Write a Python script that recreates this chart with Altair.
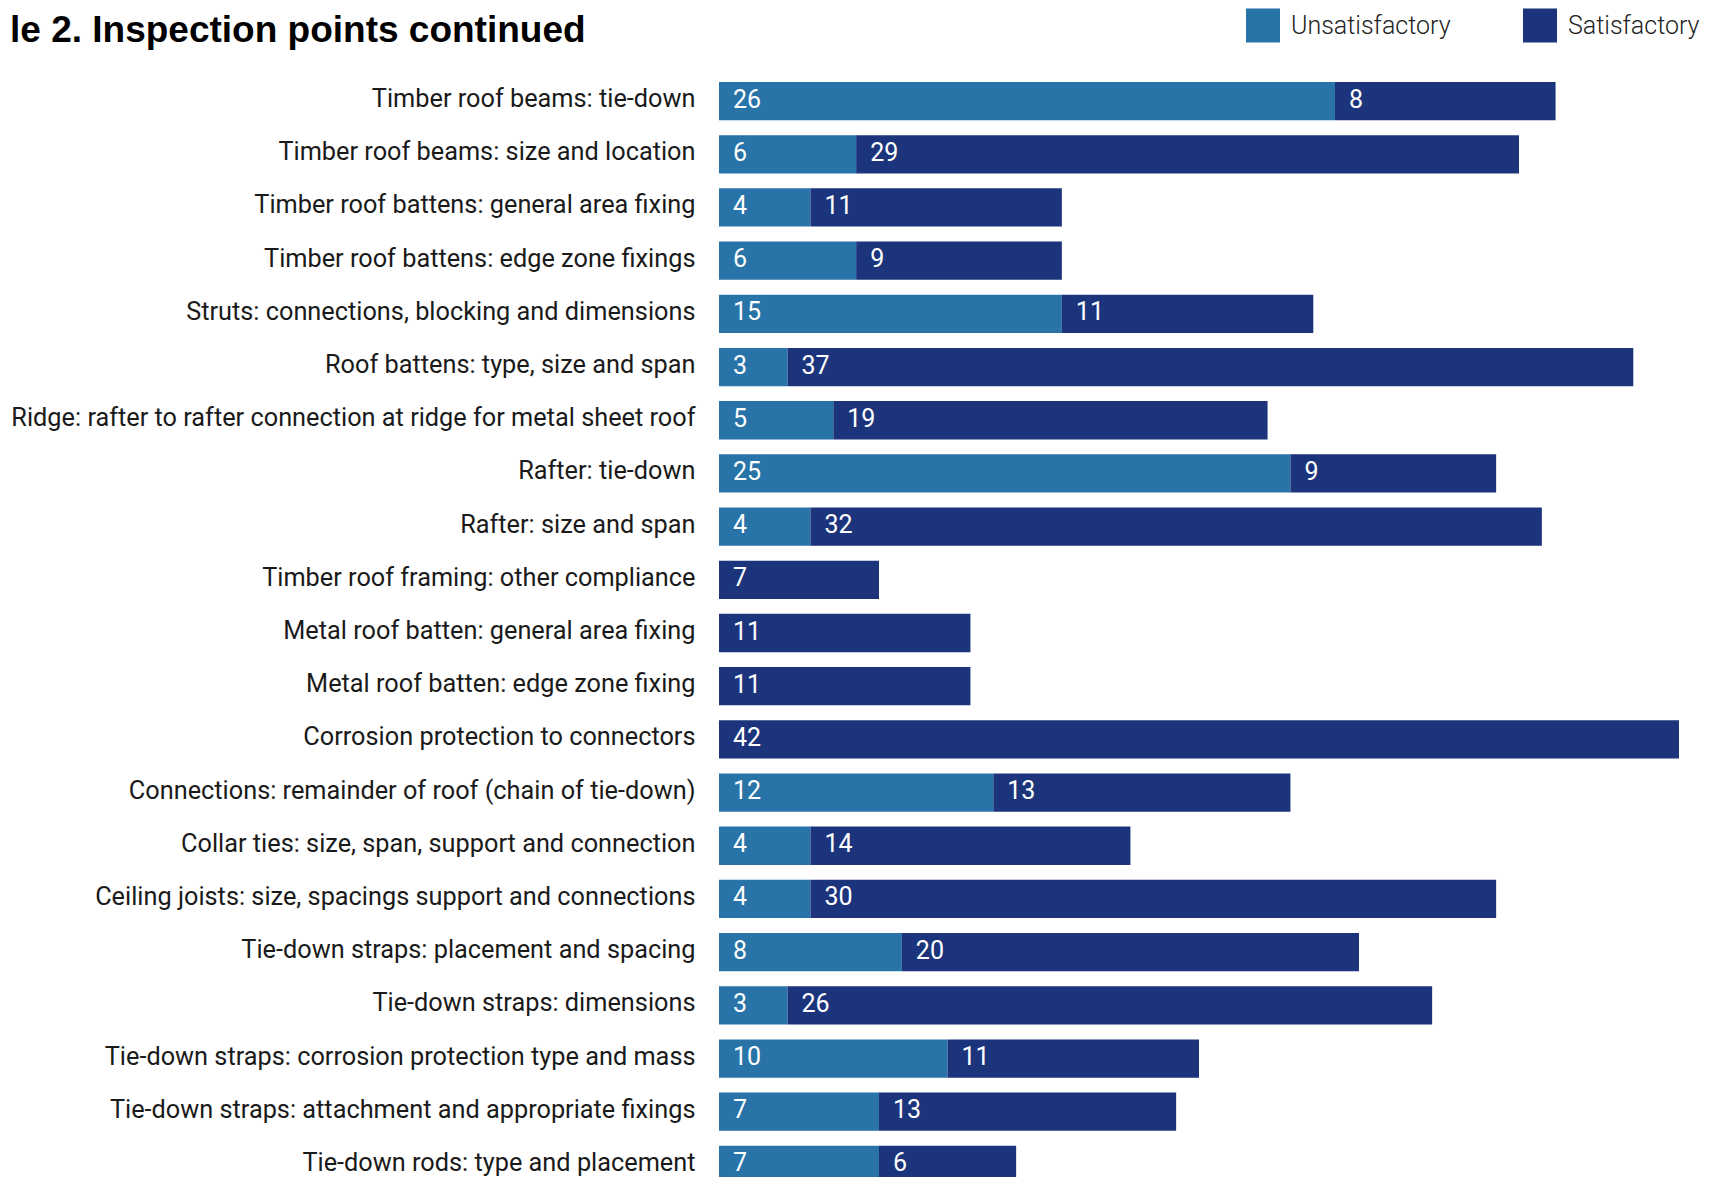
import altair as alt
import pandas as pd

categories = [
    "Timber roof beams: tie-down",
    "Timber roof beams: size and location",
    "Timber roof battens: general area fixing",
    "Timber roof battens: edge zone fixings",
    "Struts: connections, blocking and dimensions",
    "Roof battens: type, size and span",
    "Ridge: rafter to rafter connection at ridge for metal sheet roof",
    "Rafter: tie-down",
    "Rafter: size and span",
    "Timber roof framing: other compliance",
    "Metal roof batten: general area fixing",
    "Metal roof batten: edge zone fixing",
    "Corrosion protection to connectors",
    "Connections: remainder of roof (chain of tie-down)",
    "Collar ties: size, span, support and connection",
    "Ceiling joists: size, spacings support and connections",
    "Tie-down straps: placement and spacing",
    "Tie-down straps: dimensions",
    "Tie-down straps: corrosion protection type and mass",
    "Tie-down straps: attachment and appropriate fixings",
    "Tie-down rods: type and placement",
]

# bar lengths as drawn in the picture
unsat_values = [26.95, 6, 4, 6, 15, 3, 5, 25, 4, 0, 0, 0, 0, 12, 4, 4, 8, 3, 10, 7, 7]
sat_values = [9.65, 29, 11, 9, 11, 37, 19, 9, 32, 7, 11, 11, 42, 13, 14, 30, 20, 28.2, 11, 13, 6]

# numbers printed on the bars
unsat_labels = ["26", "6", "4", "6", "15", "3", "5", "25", "4", "", "", "", "", "12", "4", "4", "8", "3", "10", "7", "7"]
sat_labels = ["8", "29", "11", "9", "11", "37", "19", "9", "32", "7", "11", "11", "42", "13", "14", "30", "20", "26", "11", "13", "6"]

series = ["Unsatisfactory", "Satisfactory"]
colors = ["#2873A7", "#1B347C"]

rows = []
for i, cat in enumerate(categories):
    u = unsat_values[i]
    s = sat_values[i]
    rows.append(dict(category=cat, series=series[0], start=0, end=u, label=unsat_labels[i]))
    rows.append(dict(category=cat, series=series[1], start=u, end=u + s, label=sat_labels[i]))
df = pd.DataFrame(rows)

yscale = alt.Scale(domain=categories, paddingInner=0.28, paddingOuter=0.14, range=[0, 1117])
xscale = alt.Scale(domain=[0, 42], nice=False, zero=True)
yaxis = alt.Axis(title=None, ticks=False, domain=False, grid=False, labelPadding=24,
                 labelOffset=-2, labelFont="Roboto", labelFontSize=25.3,
                 labelColor="#1a1a1a", labelLimit=900)

base = alt.Chart(df)

bars = base.mark_bar().encode(
    y=alt.Y("category:N", sort=categories, scale=yscale, axis=yaxis),
    x=alt.X("start:Q", scale=xscale, axis=None),
    x2="end:Q",
    color=alt.Color("series:N", sort=series,
                    scale=alt.Scale(domain=series, range=colors),
                    legend=alt.Legend(title=None, orient="none", direction="horizontal",
                                      legendX=527, legendY=-66, padding=0,
                                      symbolType="square", symbolSize=1156,
                                      symbolStrokeWidth=0, symbolOpacity=1,
                                      labelFont="Roboto", labelFontWeight=300,
                                      labelFontSize=25, labelColor="#222222",
                                      labelBaseline="middle",
                                      labelOffset=11, columnPadding=72,
                                      labelLimit=400)),
)

texts = base.mark_text(align="left", baseline="middle", dx=14, dy=-1.5,
                       font="Roboto", fontSize=25, color="white").encode(
    y=alt.Y("category:N", sort=categories, scale=yscale, axis=yaxis),
    x=alt.X("start:Q", scale=xscale, axis=None),
    text="label:N",
).transform_filter(alt.datum.label != "")

chart = alt.layer(bars, texts).properties(
    width=960,
    height=1102.5,
    padding={"left": 711, "top": 66.5, "right": 28, "bottom": 0},
    autosize=alt.AutoSizeParams(type="none"),
    title=alt.TitleParams("le 2. Inspection points continued", anchor="start", frame="group",
                          font="Liberation Sans", fontSize=37, fontWeight="bold",
                          color="black", dx=-709, offset=0, dy=70, baseline="alphabetic"),
).configure(background="white", view=alt.ViewConfig(stroke=None))

chart.save("out.html", embed_options={"renderer": "svg", "actions": False})
